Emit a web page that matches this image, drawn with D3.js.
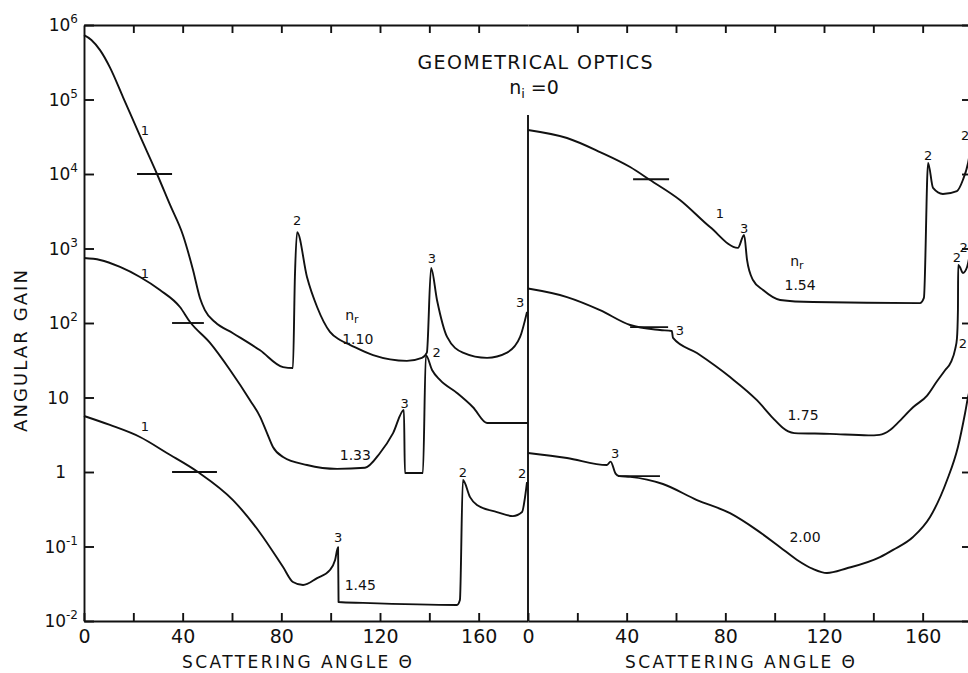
<!DOCTYPE html>
<html>
<head>
<meta charset="utf-8">
<script src="https://cdn.jsdelivr.net/npm/d3@7"></script>
<style>
body { margin: 0; background: #fff; }
svg { display: block; font-family: "DejaVu Sans", sans-serif; }
.curve { fill: none; stroke: #111; stroke-width: 1.9; stroke-linejoin: round; }
.axis path, .axis line { stroke: #111; stroke-width: 1.9; }
.axis text { font-size: 19px; fill: #111; font-family: "DejaVu Sans", sans-serif; }
.mark { stroke: #111; stroke-width: 1.9; }
text { fill: #111; }
</style>
</head>
<body>
<svg width="968" height="673"></svg>
<script>
// Angular gain against scattering angle, geometrical optics, n_i = 0
// each curve is [angle in degrees, gain]

// left panel
var curve110 = [[0,7.3e5],[3,6.3e5],[6.5,4.6e5],[10.5,2.7e5],[15.8,1.08e5],[22.7,3.24e4],[29.6,1.0e4],
    [34.9,3.84e3],[40.1,1.52e3],[44.2,514],[47,217],[49,149],[53.1,103],[60.4,73],[71.4,43],
    [80.7,25.6],[84.7,24.9],[85.5,414],[86.4,1660],[90.4,414],[94.5,164],[99.7,76],[103.8,59],
    [107.8,51],[117.2,37],[130.9,31],[137,34],[139,40],[140.7,547],[143.1,204],[147.2,65],
    [153.6,40],[163.4,34],[171.5,40],[176.8,65],[179.6,141]];
var curve133 = [[0,745],[6.5,702],[14.6,565],[22.7,414],[30.8,277],[38.9,164],[43,103],[51.1,54],
    [59.2,23.4],[67.3,9.2],[71.4,5.5],[74.2,3.33],[76.6,2.17],[80.7,1.59],[90.4,1.24],[102.6,1.1],
    [113.9,1.14],[120,1.8],[125.3,3.33],[129.7,6.8],[130.1,0.97],[137.4,0.97],[138.6,37],
    [141.1,23.4],[144.3,17.2],[151.2,11.5],[157.7,7.4],[163.4,4.55],[180,4.55]];
var curve145 = [[0,5.65],[10.5,4.28],[22.7,2.95],[33.6,1.8],[46.2,1.0],[60.4,0.42],[71.4,0.152],
    [80.7,0.053],[84.7,0.0334],[88.8,0.0304],[94.5,0.0377],[99.7,0.0484],[101.8,0.066],[103,0.098],
    [103.2,0.018],[113.1,0.0175],[151.2,0.0164],[152.4,0.0191],[153.6,0.78],[156.5,0.46],
    [159.3,0.36],[167.4,0.29],[173.9,0.256],[177.6,0.29],[178.8,0.46],[179.6,0.73]];

// right panel
var curve154 = [[0,3.9e4],[15.8,3.04e4],[29.2,1.97e4],[41.4,1.24e4],[49.5,8.3e3],[61.6,4.48e3],
    [73.8,1.94e3],[85.1,1.02e3],[87.6,1.52e3],[88.8,702],[91.2,378],[95.3,277],[102.2,204],
    [115.5,191],[158.9,185],[160.5,217],[162.2,1.41e4],[164.2,6.5e3],[168.2,5.4e3],[173.9,5.9e3],
    [176.3,8.3e3],[178.4,1.41e4],[180,3e4]];
var curve175 = [[0,290],[15.8,223],[29.2,149],[41.4,94],[53.5,80.6],[58.3,78],[58.8,63],[68.5,39.5],
    [81.9,18.8],[92.8,9.2],[99.3,5.3],[103.4,3.9],[105.5,3.5],[108,3.33],[122.4,3.25],[138,3.1],
    [142.5,3.15],[146.8,3.66],[150,4.6],[156.1,7.4],[161.8,10.6],[165.8,16.5],[169,23],[171.5,30],
    [173.2,45],[173.9,62],[174.3,149],[174.4,601],[175.1,565],[176.3,469],[178,565],[179,800]];
var curve200 = [[0,1.8],[15.8,1.54],[32,1.24],[33.5,1.38],[35.5,0.95],[37,0.88],[41.4,0.86],
    [54.7,0.69],[68.5,0.42],[81.9,0.28],[92.8,0.166],[102.2,0.098],[109.1,0.066],[115.5,0.05],
    [121.2,0.044],[129.3,0.051],[142.7,0.072],[148,0.09],[156.1,0.134],[163,0.249],[169.9,0.78],
    [174.3,2.17],[177.2,6.2],[178.4,10.2],[180,16]];

// ray order labels: [angle, gain, text]
var leftOrders = [[24.7,3.9e4,"1"],[24.7,469,"1"],[24.7,4.1,"1"],[86.4,2.4e3,"2"],[141,745,"3"],
    [176.8,191,"3"],[143,41,"2"],[130,8.4,"3"],[103,0.134,"3"],[153.6,1.0,"2"],[177.6,0.97,"2"]];
var rightOrders = [[77.8,3.0e3,"1"],[87.6,1.88e3,"3"],[162.2,1.8e4,"2"],[177.2,3.3e4,"2"],
    [173.9,769,"2"],[176.6,1.05e3,"2"],[61.6,80,"3"],[176.3,54,"2"],[35.3,1.8,"3"]];

// refractive index labels: [angle, gain, text]
var leftIndex = [[111,62,"1.10"],[110,1.69,"1.33"],[112,0.0304,"1.45"]];
var rightIndex = [[110.3,324,"1.54"],[111.5,5.8,"1.75"],[112.3,0.134,"2.00"]];
var leftNr = [108.6,125];
var rightNr = [109,660];

// horizontal bars: [angle from, angle to, gain]
var leftBars = [[21.5,35.7,1e4],[35.7,48.6,100],[35.7,53.9,1]];
var rightBars = [[42.6,57.2,8.5e3],[41.4,56.8,88],[36.5,53.5,0.88]];

var decades = [1e-2,1e-1,1,10,1e2,1e3,1e4,1e5,1e6];
var decadeBase = ["10","10","1","10","10","10","10","10","10"];
var decadeExp = ["-2","-1","","","2","3","4","5","6"];
var angleTicks = [0,20,40,60,80,100,120,140,160];
var dividerTop = 6.2e4;

var svg = d3.select("svg");

var gainScale = d3.scaleLog().domain([1e-2, 1e6]).range([621, 25]);
var leftAngle = d3.scaleLinear().domain([0, 180]).range([84, 528]);
var rightAngle = d3.scaleLinear().domain([0, 180]).range([528, 972]);

var panels = [
    {x: leftAngle, curves: [curve110, curve133, curve145], orders: leftOrders, index: leftIndex, nr: leftNr, bars: leftBars},
    {x: rightAngle, curves: [curve154, curve175, curve200], orders: rightOrders, index: rightIndex, nr: rightNr, bars: rightBars}
];

// **** axes ****
panels.forEach(function(p) {
    svg.append("g").attr("class", "axis")
        .attr("transform", "translate(0,621)")
        .call(d3.axisBottom(p.x).tickValues(angleTicks).tickSizeInner(-8).tickSizeOuter(0)
            .tickPadding(9).tickFormat(function(d) { return d % 40 === 0 ? d : ""; }));

    svg.append("g").attr("class", "axis")
        .attr("transform", "translate(0,25)")
        .call(d3.axisTop(p.x).tickValues(angleTicks.slice(1)).tickSizeInner(-8).tickSizeOuter(0)
            .tickFormat(""));
});

svg.append("g").attr("class", "axis")
    .attr("transform", "translate(84,0)")
    .call(d3.axisLeft(gainScale).tickValues(decades).tickSizeInner(-10).tickSizeOuter(0).tickFormat(""));

svg.append("g").attr("class", "axis")
    .attr("transform", "translate(970,0)")
    .call(d3.axisRight(gainScale).tickValues(decades).tickSizeInner(-8).tickSizeOuter(0).tickFormat(""));

// divider between the two panels
svg.append("line").attr("class", "mark")
    .attr("x1", leftAngle(180)).attr("x2", leftAngle(180))
    .attr("y1", gainScale(dividerTop)).attr("y2", gainScale(1e-2));

// y tick labels with superscripts
var yLabels = svg.append("g").selectAll("text")
    .data(decades)
    .enter()
    .append("text")
    .attr("x", function(d, i) { return decadeExp[i] ? 78 : (decadeBase[i] === "1" ? 66 : 69); })
    .attr("y", function(d) { return gainScale(d) + 6; })
    .attr("text-anchor", "end")
    .style("font-size", "17px");
yLabels.append("tspan").text(function(d, i) { return decadeBase[i]; });
yLabels.append("tspan")
    .attr("dy", -8)
    .style("font-size", "12px")
    .text(function(d, i) { return decadeExp[i]; });

// **** curves ****
panels.forEach(function(p) {
    var line = d3.line()
        .x(function(d) { return p.x(d[0]); })
        .y(function(d) { return gainScale(d[1]); })
        .curve(d3.curveMonotoneX);

    svg.append("g").selectAll("path")
        .data(p.curves)
        .enter()
        .append("path")
        .attr("class", "curve")
        .attr("d", line);

    svg.append("g").selectAll("line")
        .data(p.bars)
        .enter()
        .append("line")
        .attr("class", "mark")
        .attr("x1", function(d) { return p.x(d[0]); })
        .attr("x2", function(d) { return p.x(d[1]); })
        .attr("y1", function(d) { return gainScale(d[2]); })
        .attr("y2", function(d) { return gainScale(d[2]); });

    svg.append("g").selectAll("text")
        .data(p.orders)
        .enter()
        .append("text")
        .attr("x", function(d) { return p.x(d[0]); })
        .attr("y", function(d) { return gainScale(d[1]); })
        .attr("dy", "0.36em")
        .attr("text-anchor", "middle")
        .style("font-size", "13px")
        .text(function(d) { return d[2]; });

    svg.append("g").selectAll("text")
        .data(p.index)
        .enter()
        .append("text")
        .attr("x", function(d) { return p.x(d[0]); })
        .attr("y", function(d) { return gainScale(d[1]); })
        .attr("dy", "0.36em")
        .attr("text-anchor", "middle")
        .style("font-size", "14px")
        .text(function(d) { return d[2]; });

    var nr = svg.append("text")
        .attr("x", p.x(p.nr[0]))
        .attr("y", gainScale(p.nr[1]))
        .attr("dy", "0.3em")
        .attr("text-anchor", "middle")
        .style("font-size", "14px");
    nr.append("tspan").text("n");
    nr.append("tspan").attr("dy", 3).style("font-size", "11px").text("r");
});

// **** titles ****
svg.append("text")
    .attr("x", 535).attr("y", 69)
    .attr("text-anchor", "middle")
    .attr("textLength", 235).attr("lengthAdjust", "spacing")
    .style("font-size", "19px")
    .text("GEOMETRICAL OPTICS");

var ni = svg.append("text")
    .attr("x", 534).attr("y", 94)
    .attr("text-anchor", "middle")
    .style("font-size", "19px");
ni.append("tspan").text("n");
ni.append("tspan").attr("dy", 4).style("font-size", "13px").text("i");
ni.append("tspan").attr("dy", -4).text(" =0");

[[leftAngle, 297], [rightAngle, 740]].forEach(function(a) {
    svg.append("text")
        .attr("x", a[1]).attr("y", 668)
        .attr("text-anchor", "middle")
        .attr("textLength", 230).attr("lengthAdjust", "spacing")
        .style("font-size", "17px")
        .text("SCATTERING ANGLE Θ");
});

svg.append("text")
    .attr("transform", "translate(27,351) rotate(-90)")
    .attr("text-anchor", "middle")
    .attr("textLength", 162).attr("lengthAdjust", "spacing")
    .style("font-size", "18px")
    .text("ANGULAR GAIN");
</script>
</body>
</html>
